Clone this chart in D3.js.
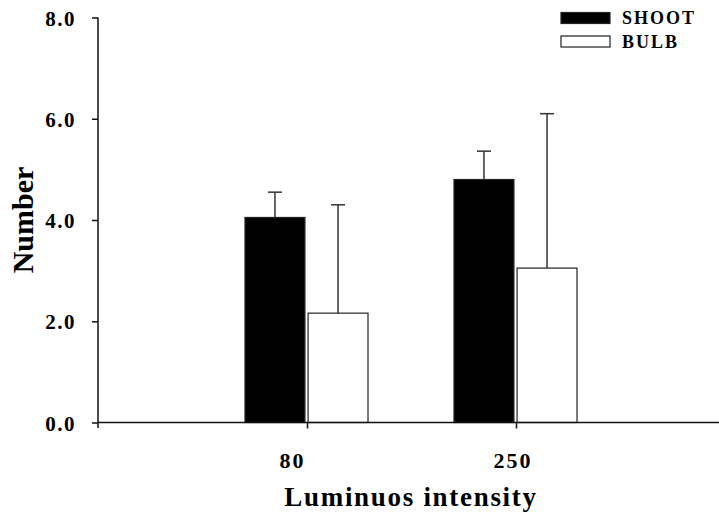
<!DOCTYPE html>
<html>
<head>
<meta charset="utf-8">
<script src="https://cdn.jsdelivr.net/npm/d3@7"></script>
<style>
  html, body { margin: 0; padding: 0; background: #fff; }
  svg { display: block; }
  text { font-family: "Liberation Serif", "Times New Roman", serif; font-weight: bold; fill: #000; }
</style>
</head>
<body>
<script>
// Mean number of shoots and bulbs per luminous intensity, with upper error bars
const categories = ["80", "250"];
const seriesNames = ["SHOOT", "BULB"];
const shootMeans = [4.05, 4.80];
const shootErrors = [0.50, 0.56];
const bulbMeans = [2.16, 3.05];
const bulbErrors = [2.14, 3.05];
const yTicks = [0, 2, 4, 6, 8];

const W = 719, H = 519;
const svg = d3.select("body").append("svg").attr("width", W).attr("height", H);

const rows = categories.map((c, i) => ({
  cat: c,
  values: [
    { key: "SHOOT", mean: shootMeans[i], err: shootErrors[i] },
    { key: "BULB", mean: bulbMeans[i], err: bulbErrors[i] }
  ]
}));

const axisLeftX = 98, axisRightX = 719;
const x = d3.scalePoint().domain(categories).range([307, 516]);
const xSub = d3.scaleBand().domain(seriesNames).range([-62, 61]).paddingInner(0.05);
const y = d3.scaleLinear().domain([0, 8]).range([422.5, 17.5]);
const fill = d3.scaleOrdinal().domain(seriesNames).range(["#000", "#fff"]);

// bars
const groups = svg.append("g").selectAll("g").data(rows).join("g")
  .attr("transform", d => `translate(${x(d.cat)},0)`);

groups.selectAll("rect").data(d => d.values).join("rect")
  .attr("x", d => xSub(d.key))
  .attr("width", xSub.bandwidth())
  .attr("y", d => y(d.mean))
  .attr("height", d => y(0) - y(d.mean))
  .attr("fill", d => fill(d.key))
  .attr("stroke", "#222")
  .attr("stroke-width", 1.2);

// upper error bars
const capHalf = 7;
const eb = groups.selectAll("g.err").data(d => d.values).join("g").attr("class", "err");
eb.append("line")
  .attr("x1", d => xSub(d.key) + xSub.bandwidth() / 2)
  .attr("x2", d => xSub(d.key) + xSub.bandwidth() / 2)
  .attr("y1", d => y(d.mean))
  .attr("y2", d => y(d.mean + d.err))
  .attr("stroke", "#333").attr("stroke-width", 1.5);
eb.append("line")
  .attr("x1", d => xSub(d.key) + xSub.bandwidth() / 2 - capHalf)
  .attr("x2", d => xSub(d.key) + xSub.bandwidth() / 2 + capHalf)
  .attr("y1", d => y(d.mean + d.err))
  .attr("y2", d => y(d.mean + d.err))
  .attr("stroke", "#333").attr("stroke-width", 1.5);

// y axis
const yAxis = svg.append("g").attr("transform", `translate(${axisLeftX},0)`)
  .call(d3.axisLeft(y).tickValues(yTicks).tickFormat(d3.format(".1f")).tickSize(6).tickSizeOuter(0).tickPadding(16));
yAxis.select(".domain").attr("d", `M0,${y(8)}V${y(0) + 5.5}`).attr("stroke", "#111").attr("stroke-width", 1.5);
yAxis.selectAll(".tick line").attr("stroke", "#111").attr("stroke-width", 1.5);
yAxis.selectAll(".tick text")
  .attr("font-size", 21).attr("letter-spacing", "1.5px")
  .attr("font-family", "'Liberation Serif', 'Times New Roman', serif")
  .attr("font-weight", "bold").attr("fill", "#000")
  .attr("dy", "0.36em");

// x axis
const xAxis = svg.append("g").attr("transform", `translate(0,${y(0)})`)
  .call(d3.axisBottom(x).tickSize(6).tickSizeOuter(0).tickPadding(24));
xAxis.select(".domain").attr("d", `M${axisLeftX},0H${axisRightX}`).attr("stroke", "#111").attr("stroke-width", 1.5);
xAxis.selectAll(".tick line").attr("stroke", "#111").attr("stroke-width", 1.5);
const labelNudge = { "80": -15, "250": -3.5 };
xAxis.selectAll(".tick text")
  .attr("font-size", 22).attr("letter-spacing", "2px")
  .attr("font-family", "'Liberation Serif', 'Times New Roman', serif")
  .attr("font-weight", "bold").attr("fill", "#000")
  .attr("dx", d => labelNudge[d])
  .attr("dy", "0.71em");

// axis titles
svg.append("text")
  .attr("x", 411).attr("y", 506)
  .attr("text-anchor", "middle")
  .attr("font-size", 27).attr("letter-spacing", "1.7px")
  .text("Luminuos intensity");

svg.append("text")
  .attr("transform", "translate(32.5,220) rotate(-90)")
  .attr("text-anchor", "middle")
  .attr("font-size", 30)
  .text("Number");

// legend
const legend = svg.append("g").selectAll("g").data(seriesNames).join("g")
  .attr("transform", (d, i) => `translate(561,${12.5 + i * 23.5})`);
legend.append("rect")
  .attr("width", 49).attr("height", 11)
  .attr("fill", d => fill(d))
  .attr("stroke", "#222").attr("stroke-width", 1.2);
legend.append("text")
  .attr("x", 61).attr("y", 11.5)
  .attr("font-size", 18).attr("letter-spacing", "2px")
  .text(d => d);
</script>
</body>
</html>
